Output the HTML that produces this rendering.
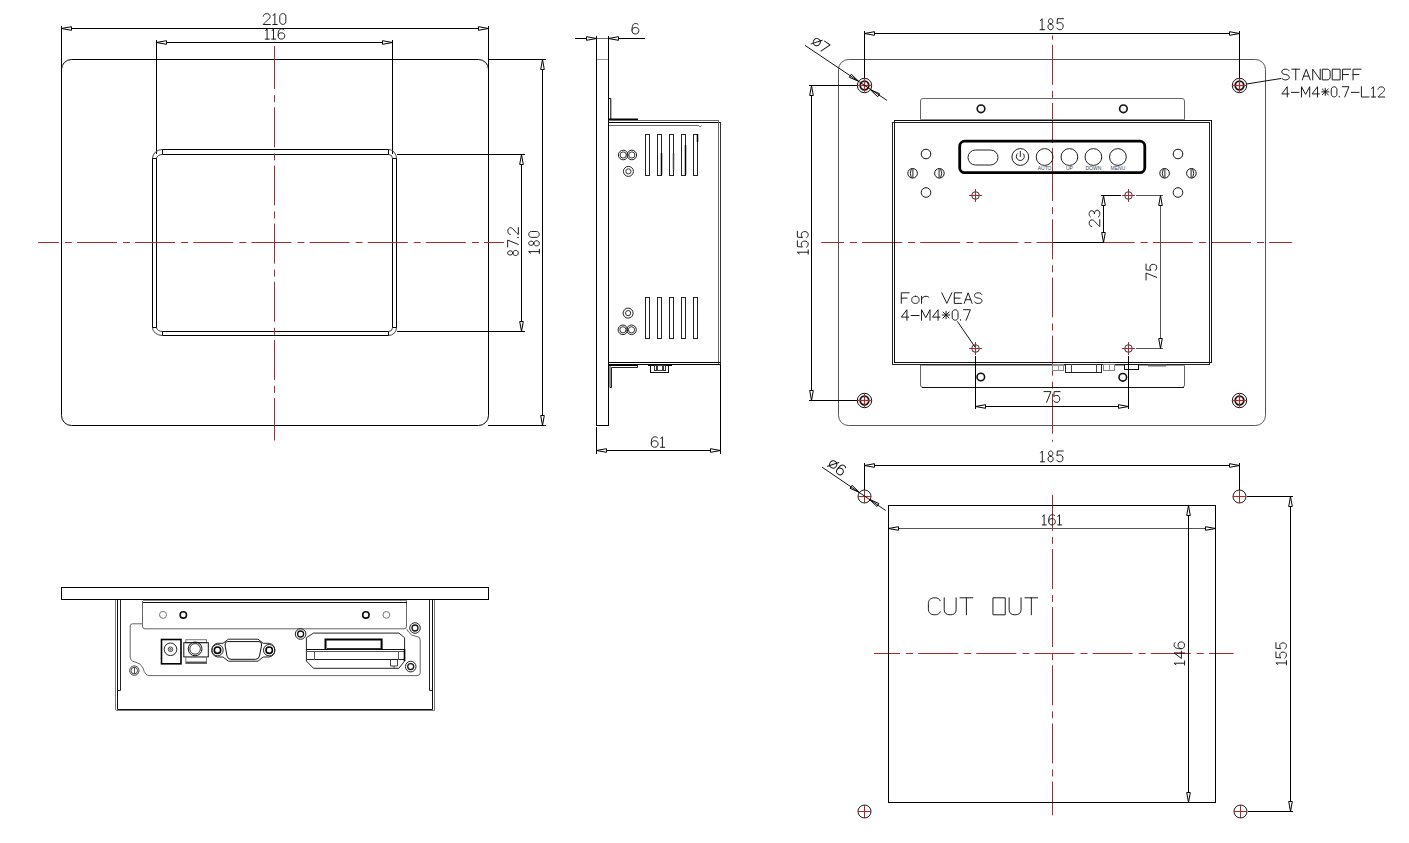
<!DOCTYPE html>
<html><head><meta charset="utf-8"><title>drawing</title>
<style>html,body{margin:0;padding:0;background:#fff;}svg{display:block;}</style></head>
<body><svg width="1409" height="843" viewBox="0 0 1409 843">
<rect x="0" y="0" width="1409" height="843" fill="#fff"/>
<rect x="61.5" y="59.5" width="427" height="366" rx="10" stroke="#000" stroke-width="1" fill="none"/>
<line x1="488" y1="59.5" x2="546" y2="59.5" stroke="#000" stroke-width="1"/>
<line x1="488" y1="425.5" x2="546" y2="425.5" stroke="#000" stroke-width="1"/>
<line x1="61.5" y1="26" x2="61.5" y2="70" stroke="#000" stroke-width="1"/>
<line x1="488.5" y1="26" x2="488.5" y2="70" stroke="#000" stroke-width="1"/>
<line x1="71" y1="28.5" x2="479" y2="28.5" stroke="#000" stroke-width="1"/>
<path d="M61.5 28.5 L71.5 26.7 L71.5 30.3 Z" stroke="#000" stroke-width="1" fill="none"/>
<path d="M488.5 28.5 L478.5 30.3 L478.5 26.7 Z" stroke="#000" stroke-width="1" fill="none"/>
<g transform="translate(274.5 19) rotate(0) translate(-11.33 -5.5) scale(1.1)" fill="none" stroke="#111" stroke-width="0.86" stroke-linecap="round" stroke-linejoin="round"><path transform="translate(0 0)" d="M0 2.5 C0.3 -0.8 6.3 -0.8 6.3 2.8 C6.3 5 2.8 6.5 0 10 L6.5 10"/><path transform="translate(8.8 0)" d="M0.3 1.8 L1.8 0 L1.8 10 M0 10 L4 10"/><path transform="translate(15.1 0)" d="M0 2.6 C0 -0.8 5.5 -0.8 5.5 2.6 L5.5 7.4 C5.5 10.8 0 10.8 0 7.4 Z"/></g>
<line x1="156.5" y1="40" x2="156.5" y2="154" stroke="#000" stroke-width="1"/>
<line x1="392.5" y1="40" x2="392.5" y2="154" stroke="#000" stroke-width="1"/>
<line x1="166" y1="42.5" x2="383" y2="42.5" stroke="#000" stroke-width="1"/>
<path d="M156.5 42.5 L166.5 40.7 L166.5 44.3 Z" stroke="#000" stroke-width="1" fill="none"/>
<path d="M392.5 42.5 L382.5 44.3 L382.5 40.7 Z" stroke="#000" stroke-width="1" fill="none"/>
<g transform="translate(275 34) rotate(0) translate(-9.74 -5.1) scale(1.02)" fill="none" stroke="#111" stroke-width="0.93" stroke-linecap="round" stroke-linejoin="round"><path transform="translate(0 0)" d="M0.3 1.8 L1.8 0 L1.8 10 M0 10 L4 10"/><path transform="translate(6.3 0)" d="M0.3 1.8 L1.8 0 L1.8 10 M0 10 L4 10"/><path transform="translate(12.6 0)" d="M5.9 1 C5.2 0.2 4.4 0 3.3 0 C0.5 0 0 3.5 0 6.5 C0 9 1.3 10 3.25 10 C5.3 10 6.5 8.7 6.5 6.8 C6.5 4.9 5.2 3.8 3.25 3.8 C1.4 3.8 0.2 5 0.05 6.5"/></g>
<rect x="162.5" y="149.5" width="226" height="5" rx="0" stroke="#000" stroke-width="1" fill="none"/>
<rect x="162.5" y="331.5" width="226" height="4" rx="0" stroke="#000" stroke-width="1" fill="none"/>
<rect x="152.5" y="158.5" width="4" height="169" rx="0" stroke="#000" stroke-width="1" fill="none"/>
<rect x="392.5" y="158.5" width="4" height="169" rx="0" stroke="#000" stroke-width="1" fill="none"/>
<path d="M388.5 149.5 A8 9 0 0 1 396.5 158.5 M388.5 154.5 A4 4 0 0 1 392.5 158.5 M162.5 149.5 A10 9 0 0 0 152.5 158.5 M162.5 154.5 A6 4 0 0 0 156.5 158.5 M388.5 335.5 A8 8 0 0 0 396.5 327.5 M388.5 331.5 A4 4 0 0 0 392.5 327.5 M162.5 335.5 A10 8 0 0 1 152.5 327.5 M162.5 331.5 A6 4 0 0 1 156.5 327.5" stroke="#444" stroke-width="1" fill="none"/>
<line x1="397" y1="154.5" x2="525" y2="154.5" stroke="#000" stroke-width="1"/>
<line x1="397" y1="331.5" x2="525" y2="331.5" stroke="#000" stroke-width="1"/>
<line x1="521.5" y1="164" x2="521.5" y2="322" stroke="#000" stroke-width="1"/>
<path d="M521.5 154.5 L523.3 164.5 L519.7 164.5 Z" stroke="#000" stroke-width="1" fill="none"/>
<path d="M521.5 331.5 L519.7 321.5 L523.3 321.5 Z" stroke="#000" stroke-width="1" fill="none"/>
<g transform="translate(513 242) rotate(-90) translate(-14.44 -5.35) scale(1.07)" fill="none" stroke="#111" stroke-width="0.89" stroke-linecap="round" stroke-linejoin="round"><path transform="translate(0 0)" d="M3.25 4.8 C0.6 4.8 0.6 0 3.25 0 C5.9 0 5.9 4.8 3.25 4.8 C0 4.8 0 10 3.25 10 C6.5 10 6.5 4.8 3.25 4.8 Z"/><path transform="translate(8.8 0)" d="M0 0 L6.5 0 L2.4 10"/><path transform="translate(17.6 0)" d="M0 9.3 L0 10"/><path transform="translate(20.5 0)" d="M0 2.5 C0.3 -0.8 6.3 -0.8 6.3 2.8 C6.3 5 2.8 6.5 0 10 L6.5 10"/></g>
<line x1="542.5" y1="69" x2="542.5" y2="416" stroke="#000" stroke-width="1"/>
<path d="M542.5 59.5 L544.3 69.5 L540.7 69.5 Z" stroke="#000" stroke-width="1" fill="none"/>
<path d="M542.5 425.5 L540.7 415.5 L544.3 415.5 Z" stroke="#000" stroke-width="1" fill="none"/>
<g transform="translate(534 242.5) rotate(-90) translate(-11.02 -5.35) scale(1.07)" fill="none" stroke="#111" stroke-width="0.89" stroke-linecap="round" stroke-linejoin="round"><path transform="translate(0 0)" d="M0.3 1.8 L1.8 0 L1.8 10 M0 10 L4 10"/><path transform="translate(6.3 0)" d="M3.25 4.8 C0.6 4.8 0.6 0 3.25 0 C5.9 0 5.9 4.8 3.25 4.8 C0 4.8 0 10 3.25 10 C6.5 10 6.5 4.8 3.25 4.8 Z"/><path transform="translate(15.1 0)" d="M0 2.6 C0 -0.8 5.5 -0.8 5.5 2.6 L5.5 7.4 C5.5 10.8 0 10.8 0 7.4 Z"/></g>
<path d="M38 242.5H58.85M64.85 242.5H71.85M77 242.5H117M123 242.5H130M135.15 242.5H175.15M181.15 242.5H188.15M193.3 242.5H233.3M239.3 242.5H246.3M251.45 242.5H291.45M297.45 242.5H304.45M309.6 242.5H349.6M355.6 242.5H362.6M367.75 242.5H407.75M413.75 242.5H420.75M425.9 242.5H465.9M471.9 242.5H478.9M484.05 242.5H504" stroke="#ab2a2c" stroke-width="1" fill="none"/>
<path d="M274.5 46V89.15M274.5 95.15V102.15M274.5 107.3V147.3M274.5 153.3V160.3M274.5 165.45V205.45M274.5 211.45V218.45M274.5 223.6V263.6M274.5 269.6V276.6M274.5 281.75V321.75M274.5 327.75V334.75M274.5 339.9V379.9M274.5 385.9V392.9M274.5 398.05V440.5" stroke="#ab2a2c" stroke-width="1" fill="none"/>
<line x1="596.5" y1="59" x2="596.5" y2="426" stroke="#000" stroke-width="1"/>
<line x1="608.5" y1="59" x2="608.5" y2="426" stroke="#000" stroke-width="1"/>
<line x1="597" y1="59.5" x2="608" y2="59.5" stroke="#999" stroke-width="1"/>
<line x1="596" y1="425.5" x2="609" y2="425.5" stroke="#000" stroke-width="1"/>
<line x1="596.5" y1="36" x2="596.5" y2="59" stroke="#000" stroke-width="1"/>
<line x1="608.5" y1="36" x2="608.5" y2="59" stroke="#000" stroke-width="1"/>
<line x1="575" y1="38.5" x2="586" y2="38.5" stroke="#000" stroke-width="1"/>
<path d="M596.5 38.5 L586.5 40.3 L586.5 36.7 Z" stroke="#000" stroke-width="1" fill="none"/>
<line x1="597" y1="38.5" x2="608" y2="38.5" stroke="#6a6a6a" stroke-width="1"/>
<line x1="619" y1="38.5" x2="645" y2="38.5" stroke="#000" stroke-width="1"/>
<path d="M608.5 38.5 L618.5 36.7 L618.5 40.3 Z" stroke="#000" stroke-width="1" fill="none"/>
<g transform="translate(632 23.5) rotate(0) translate(0 0) scale(1.05)" fill="none" stroke="#111" stroke-width="0.9" stroke-linecap="round" stroke-linejoin="round"><path transform="translate(0 0)" d="M5.9 1 C5.2 0.2 4.4 0 3.3 0 C0.5 0 0 3.5 0 6.5 C0 9 1.3 10 3.25 10 C5.3 10 6.5 8.7 6.5 6.8 C6.5 4.9 5.2 3.8 3.25 3.8 C1.4 3.8 0.2 5 0.05 6.5"/></g>
<path d="M608.5 98.5 L610.8 98.5 L610.8 119" stroke="#000" stroke-width="1" fill="none"/>
<line x1="609" y1="119.5" x2="638" y2="119.5" stroke="#000" stroke-width="2"/>
<line x1="612" y1="120.5" x2="719" y2="120.5" stroke="#6a6a6a" stroke-width="1"/>
<line x1="609" y1="122.5" x2="721" y2="122.5" stroke="#000" stroke-width="1"/>
<line x1="609" y1="125.5" x2="699" y2="125.5" stroke="#6a6a6a" stroke-width="1"/>
<path d="M698.5 125.5 L700 127 L701.5 125.5" stroke="#6a6a6a" stroke-width="1" fill="none"/>
<line x1="718.5" y1="120" x2="718.5" y2="364" stroke="#6a6a6a" stroke-width="1"/>
<line x1="720.5" y1="122" x2="720.5" y2="365" stroke="#333" stroke-width="1"/>
<line x1="609" y1="362.5" x2="721" y2="362.5" stroke="#000" stroke-width="1"/>
<line x1="609" y1="364.5" x2="721" y2="364.5" stroke="#000" stroke-width="1"/>
<line x1="609" y1="365.5" x2="638" y2="365.5" stroke="#000" stroke-width="1"/>
<path d="M610 366 L610 387.5 L611.5 387.5 L611.5 367.5 L637.5 367.5 L637.5 365" stroke="#222" stroke-width="1" fill="none"/>
<line x1="648" y1="365.5" x2="672" y2="365.5" stroke="#000" stroke-width="1"/>
<rect x="650.5" y="365.5" width="18" height="7" rx="0" stroke="#111" stroke-width="1" fill="none"/>
<rect x="654.5" y="365.5" width="2" height="5" rx="0" stroke="#333" stroke-width="1" fill="none"/>
<rect x="657.5" y="365.5" width="5" height="5" rx="0" stroke="#444" stroke-width="1" fill="none"/>
<rect x="663.5" y="365.5" width="2" height="5" rx="0" stroke="#333" stroke-width="1" fill="none"/>
<rect x="645.5" y="134.5" width="4" height="41" rx="0" stroke="#222" stroke-width="1" fill="none"/>
<rect x="645.5" y="297.5" width="4" height="41" rx="0" stroke="#222" stroke-width="1" fill="none"/>
<rect x="657.5" y="134.5" width="4" height="41" rx="0" stroke="#222" stroke-width="1" fill="none"/>
<rect x="657.5" y="297.5" width="4" height="41" rx="0" stroke="#222" stroke-width="1" fill="none"/>
<rect x="669.5" y="134.5" width="4" height="41" rx="0" stroke="#222" stroke-width="1" fill="none"/>
<rect x="669.5" y="297.5" width="4" height="41" rx="0" stroke="#222" stroke-width="1" fill="none"/>
<rect x="681.5" y="134.5" width="4" height="41" rx="0" stroke="#222" stroke-width="1" fill="none"/>
<rect x="681.5" y="297.5" width="4" height="41" rx="0" stroke="#222" stroke-width="1" fill="none"/>
<rect x="693.5" y="134.5" width="4" height="41" rx="0" stroke="#222" stroke-width="1" fill="none"/>
<rect x="693.5" y="297.5" width="4" height="41" rx="0" stroke="#222" stroke-width="1" fill="none"/>
<line x1="661.5" y1="153" x2="661.5" y2="175" stroke="#000" stroke-width="1.5"/>
<line x1="673.5" y1="153" x2="673.5" y2="170" stroke="#444" stroke-width="1.5"/>
<line x1="685.5" y1="145" x2="685.5" y2="175" stroke="#000" stroke-width="1.5"/>
<line x1="697.5" y1="134" x2="697.5" y2="142" stroke="#000" stroke-width="1.5"/>
<circle cx="623.2" cy="155" r="4.8" stroke="#222" stroke-width="1" fill="none"/>
<circle cx="623.2" cy="155" r="3.1" stroke="#333" stroke-width="1" fill="none"/>
<circle cx="631.8" cy="155" r="4.8" stroke="#222" stroke-width="1" fill="none"/>
<circle cx="631.8" cy="155" r="3.1" stroke="#333" stroke-width="1" fill="none"/>
<circle cx="628.4" cy="171.4" r="5" stroke="#222" stroke-width="1" fill="none"/>
<circle cx="628.4" cy="171.4" r="2.6" stroke="#333" stroke-width="1" fill="none"/>
<circle cx="628.1" cy="313.1" r="5" stroke="#222" stroke-width="1" fill="none"/>
<circle cx="628.1" cy="313.1" r="2.6" stroke="#333" stroke-width="1" fill="none"/>
<circle cx="622.9" cy="329.8" r="4.8" stroke="#222" stroke-width="1" fill="none"/>
<circle cx="622.9" cy="329.8" r="3.1" stroke="#333" stroke-width="1" fill="none"/>
<circle cx="631.5" cy="329.8" r="4.8" stroke="#222" stroke-width="1" fill="none"/>
<circle cx="631.5" cy="329.8" r="3.1" stroke="#333" stroke-width="1" fill="none"/>
<line x1="596.5" y1="427" x2="596.5" y2="454" stroke="#000" stroke-width="1"/>
<line x1="720.5" y1="365" x2="720.5" y2="454" stroke="#000" stroke-width="1"/>
<line x1="606" y1="450.5" x2="711" y2="450.5" stroke="#000" stroke-width="1"/>
<path d="M596.5 450.5 L606.5 448.7 L606.5 452.3 Z" stroke="#000" stroke-width="1" fill="none"/>
<path d="M720.5 450.5 L710.5 452.3 L710.5 448.7 Z" stroke="#000" stroke-width="1" fill="none"/>
<g transform="translate(658 442) rotate(0) translate(-6.72 -5.25) scale(1.05)" fill="none" stroke="#111" stroke-width="0.9" stroke-linecap="round" stroke-linejoin="round"><path transform="translate(0 0)" d="M5.9 1 C5.2 0.2 4.4 0 3.3 0 C0.5 0 0 3.5 0 6.5 C0 9 1.3 10 3.25 10 C5.3 10 6.5 8.7 6.5 6.8 C6.5 4.9 5.2 3.8 3.25 3.8 C1.4 3.8 0.2 5 0.05 6.5"/><path transform="translate(8.8 0)" d="M0.3 1.8 L1.8 0 L1.8 10 M0 10 L4 10"/></g>
<path d="M821.2 242.5H843.95M849.95 242.5H856.95M862.1 242.5H902.1M908.1 242.5H915.1M920.25 242.5H960.25M966.25 242.5H973.25M978.4 242.5H1018.4M1024.4 242.5H1031.4M1036.55 242.5H1076.55M1082.55 242.5H1089.55M1094.7 242.5H1134.7M1140.7 242.5H1147.7M1152.85 242.5H1192.85M1198.85 242.5H1205.85M1211 242.5H1251M1257 242.5H1264M1269.15 242.5H1292.2" stroke="#ab2a2c" stroke-width="1" fill="none"/>
<path d="M1052.5 35.4V39.7M1052.5 44.85V84.85M1052.5 90.85V97.85M1052.5 103V143M1052.5 149V156M1052.5 161.15V201.15M1052.5 207.15V214.15M1052.5 219.3V259.3M1052.5 265.3V272.3M1052.5 277.45V317.45M1052.5 323.45V330.45M1052.5 335.6V375.6M1052.5 381.6V388.6M1052.5 393.75V433.75M1052.5 439.75V441.8M1052.5 147.8V162" stroke="#ab2a2c" stroke-width="1" fill="none"/>
<rect x="838.5" y="59.5" width="427" height="366" rx="10" stroke="#555" stroke-width="1" fill="none"/>
<path d="M920.5 120 L920.5 101 Q920.5 98.5 923 98.5 L1182 98.5 Q1184.5 98.5 1184.5 101 L1184.5 120" stroke="#666" stroke-width="1" fill="none"/>
<line x1="920" y1="119.5" x2="1185" y2="119.5" stroke="#888" stroke-width="1"/>
<circle cx="981" cy="108.8" r="3.8" stroke="#111" stroke-width="1.6" fill="none"/>
<circle cx="1123.4" cy="108.8" r="3.8" stroke="#111" stroke-width="1.6" fill="none"/>
<path d="M920.5 365 L920.5 385 Q920.5 387.5 923 387.5 L1182 387.5 Q1184.5 387.5 1184.5 385 L1184.5 365" stroke="#666" stroke-width="1" fill="none"/>
<line x1="922" y1="387.5" x2="1184" y2="387.5" stroke="#111" stroke-width="1"/>
<circle cx="980.8" cy="377" r="3.8" stroke="#111" stroke-width="1.6" fill="none"/>
<circle cx="1122.8" cy="377.3" r="3.8" stroke="#111" stroke-width="1.6" fill="none"/>
<rect x="894.5" y="120.5" width="317" height="242" rx="0" stroke="#111" stroke-width="1" fill="none"/>
<rect x="892.5" y="122.5" width="317" height="242" rx="0" stroke="#222" stroke-width="1" fill="none"/>
<line x1="921" y1="365.5" x2="1065" y2="365.5" stroke="#999" stroke-width="1"/>
<line x1="1114" y1="365.5" x2="1125" y2="365.5" stroke="#999" stroke-width="1"/>
<line x1="1138" y1="365.5" x2="1185" y2="365.5" stroke="#999" stroke-width="1"/>
<line x1="1148" y1="365.5" x2="1166" y2="365.5" stroke="#666" stroke-width="2"/>
<rect x="1052.5" y="364.5" width="11" height="6" rx="0" stroke="#888" stroke-width="1" fill="none"/>
<line x1="1058.5" y1="364" x2="1058.5" y2="370" stroke="#999" stroke-width="1"/>
<rect x="1065.5" y="364.5" width="36" height="8" rx="0" stroke="#222" stroke-width="1" fill="none"/>
<line x1="1071.5" y1="364" x2="1071.5" y2="372" stroke="#444" stroke-width="1"/>
<line x1="1096.5" y1="364" x2="1096.5" y2="372" stroke="#444" stroke-width="1"/>
<rect x="1103.5" y="364.5" width="11" height="6" rx="0" stroke="#888" stroke-width="1" fill="none"/>
<line x1="1109.5" y1="364" x2="1109.5" y2="370" stroke="#999" stroke-width="1"/>
<rect x="1124.5" y="364.5" width="14" height="5" rx="0" stroke="#111" stroke-width="1" fill="none"/>
<rect x="959.7" y="141.2" width="185.1" height="31.5" rx="5" stroke="#000" stroke-width="2.8" fill="none"/>
<rect x="968" y="150" width="30" height="15" rx="7.5" stroke="#222" stroke-width="1" fill="none"/>
<circle cx="1020.3" cy="157" r="8.4" stroke="#222" stroke-width="1" fill="none"/>
<circle cx="1044.6" cy="157" r="8.4" stroke="#222" stroke-width="1" fill="none"/>
<circle cx="1069.4" cy="157" r="8.4" stroke="#222" stroke-width="1" fill="none"/>
<circle cx="1093.4" cy="157" r="8.4" stroke="#222" stroke-width="1" fill="none"/>
<circle cx="1117.9" cy="157" r="8.4" stroke="#222" stroke-width="1" fill="none"/>
<path d="M1017.6 153.5 A4 4 0 1 0 1023 153.5 M1020.3 151 L1020.3 157" stroke="#222" stroke-width="1" fill="none"/>
<text x="1044.6" y="170" font-family="Liberation Sans, sans-serif" font-size="5" text-anchor="middle" fill="#345">AUTO</text>
<text x="1069.4" y="170" font-family="Liberation Sans, sans-serif" font-size="5" text-anchor="middle" fill="#345">UP</text>
<text x="1093.4" y="170" font-family="Liberation Sans, sans-serif" font-size="5" text-anchor="middle" fill="#345">DOWN</text>
<text x="1117.9" y="170" font-family="Liberation Sans, sans-serif" font-size="5" text-anchor="middle" fill="#345">MENU</text>
<circle cx="926" cy="154" r="4.8" stroke="#111" stroke-width="1" fill="none"/>
<circle cx="926" cy="192.5" r="4.8" stroke="#111" stroke-width="1" fill="none"/>
<circle cx="1178" cy="154" r="4.8" stroke="#111" stroke-width="1" fill="none"/>
<circle cx="1178" cy="192.5" r="4.8" stroke="#111" stroke-width="1" fill="none"/>
<circle cx="912.6" cy="173.3" r="4.8" stroke="#111" stroke-width="1" fill="none"/>
<path d="M911.4 168.8 Q909.1 173.3 911.4 177.8 M912.9 168.70000000000002 L912.9 177.9" stroke="#222" stroke-width="1" fill="none"/>
<circle cx="939.4" cy="173.3" r="4.8" stroke="#111" stroke-width="1" fill="none"/>
<path d="M940.6 168.8 Q942.9 173.3 940.6 177.8 M939.1 168.70000000000002 L939.1 177.9" stroke="#222" stroke-width="1" fill="none"/>
<circle cx="1164.6" cy="173.3" r="4.8" stroke="#111" stroke-width="1" fill="none"/>
<path d="M1163.3999999999999 168.8 Q1161.1 173.3 1163.3999999999999 177.8 M1164.8999999999999 168.70000000000002 L1164.8999999999999 177.9" stroke="#222" stroke-width="1" fill="none"/>
<circle cx="1191.4" cy="173.3" r="4.8" stroke="#111" stroke-width="1" fill="none"/>
<path d="M1192.6000000000001 168.8 Q1194.9 173.3 1192.6000000000001 177.8 M1191.1000000000001 168.70000000000002 L1191.1000000000001 177.9" stroke="#222" stroke-width="1" fill="none"/>
<circle cx="975.5" cy="195.5" r="3.8" stroke="#333" stroke-width="1" fill="none"/>
<line x1="969" y1="195.5" x2="982" y2="195.5" stroke="#ab2a2c" stroke-width="1"/>
<line x1="975.5" y1="189" x2="975.5" y2="202" stroke="#ab2a2c" stroke-width="1"/>
<circle cx="1128.5" cy="195.5" r="3.8" stroke="#333" stroke-width="1" fill="none"/>
<line x1="1122" y1="195.5" x2="1135" y2="195.5" stroke="#ab2a2c" stroke-width="1"/>
<line x1="1128.5" y1="189" x2="1128.5" y2="202" stroke="#ab2a2c" stroke-width="1"/>
<circle cx="975.5" cy="348.5" r="3.8" stroke="#333" stroke-width="1" fill="none"/>
<line x1="969" y1="348.5" x2="982" y2="348.5" stroke="#ab2a2c" stroke-width="1"/>
<line x1="975.5" y1="342" x2="975.5" y2="355" stroke="#ab2a2c" stroke-width="1"/>
<circle cx="1128.5" cy="348.5" r="3.8" stroke="#333" stroke-width="1" fill="none"/>
<line x1="1122" y1="348.5" x2="1135" y2="348.5" stroke="#ab2a2c" stroke-width="1"/>
<line x1="1128.5" y1="342" x2="1128.5" y2="355" stroke="#ab2a2c" stroke-width="1"/>
<circle cx="864.5" cy="85.5" r="7.2" stroke="#111" stroke-width="1" fill="none"/>
<circle cx="864.5" cy="85.5" r="4.3" stroke="#111" stroke-width="1.8" fill="none"/>
<line x1="857.5" y1="85.5" x2="871.5" y2="85.5" stroke="#ab2a2c" stroke-width="1.2"/>
<line x1="864.5" y1="78.5" x2="864.5" y2="92.5" stroke="#ab2a2c" stroke-width="1.2"/>
<circle cx="1239.5" cy="85.5" r="7.2" stroke="#111" stroke-width="1" fill="none"/>
<circle cx="1239.5" cy="85.5" r="4.3" stroke="#111" stroke-width="1.8" fill="none"/>
<line x1="1232.5" y1="85.5" x2="1246.5" y2="85.5" stroke="#ab2a2c" stroke-width="1.2"/>
<line x1="1239.5" y1="78.5" x2="1239.5" y2="92.5" stroke="#ab2a2c" stroke-width="1.2"/>
<circle cx="864.5" cy="400.5" r="7.2" stroke="#111" stroke-width="1" fill="none"/>
<circle cx="864.5" cy="400.5" r="4.3" stroke="#111" stroke-width="1.8" fill="none"/>
<line x1="857.5" y1="400.5" x2="871.5" y2="400.5" stroke="#ab2a2c" stroke-width="1.2"/>
<line x1="864.5" y1="393.5" x2="864.5" y2="407.5" stroke="#ab2a2c" stroke-width="1.2"/>
<circle cx="1239.5" cy="400.5" r="7.2" stroke="#111" stroke-width="1" fill="none"/>
<circle cx="1239.5" cy="400.5" r="4.3" stroke="#111" stroke-width="1.8" fill="none"/>
<line x1="1232.5" y1="400.5" x2="1246.5" y2="400.5" stroke="#ab2a2c" stroke-width="1.2"/>
<line x1="1239.5" y1="393.5" x2="1239.5" y2="407.5" stroke="#ab2a2c" stroke-width="1.2"/>
<line x1="864.5" y1="31" x2="864.5" y2="78" stroke="#000" stroke-width="1"/>
<line x1="1239.5" y1="31" x2="1239.5" y2="78" stroke="#000" stroke-width="1"/>
<line x1="874" y1="33.5" x2="1230" y2="33.5" stroke="#000" stroke-width="1"/>
<path d="M864.5 33.5 L874.5 31.7 L874.5 35.3 Z" stroke="#000" stroke-width="1" fill="none"/>
<path d="M1239.5 33.5 L1229.5 35.3 L1229.5 31.7 Z" stroke="#000" stroke-width="1" fill="none"/>
<g transform="translate(1052 24.2) rotate(0) translate(-11.88 -5.5) scale(1.1)" fill="none" stroke="#111" stroke-width="0.86" stroke-linecap="round" stroke-linejoin="round"><path transform="translate(0 0)" d="M0.3 1.8 L1.8 0 L1.8 10 M0 10 L4 10"/><path transform="translate(6.3 0)" d="M3.25 4.8 C0.6 4.8 0.6 0 3.25 0 C5.9 0 5.9 4.8 3.25 4.8 C0 4.8 0 10 3.25 10 C6.5 10 6.5 4.8 3.25 4.8 Z"/><path transform="translate(15.1 0)" d="M6.1 0 L0.7 0 L0.3 4.6 C1.2 3.8 2.1 3.6 3.25 3.6 C6.7 3.6 6.7 10 3.25 10 C1.7 10 0.7 9.4 0.1 8.5"/></g>
<line x1="809" y1="85.5" x2="857" y2="85.5" stroke="#000" stroke-width="1"/>
<line x1="809" y1="400.5" x2="857" y2="400.5" stroke="#000" stroke-width="1"/>
<line x1="811.5" y1="95" x2="811.5" y2="391" stroke="#000" stroke-width="1"/>
<path d="M811.5 85.5 L813.3 95.5 L809.7 95.5 Z" stroke="#000" stroke-width="1" fill="none"/>
<path d="M811.5 400.5 L809.7 390.5 L813.3 390.5 Z" stroke="#000" stroke-width="1" fill="none"/>
<g transform="translate(802.8 242.5) rotate(-90) translate(-11.66 -5.4) scale(1.08)" fill="none" stroke="#111" stroke-width="0.88" stroke-linecap="round" stroke-linejoin="round"><path transform="translate(0 0)" d="M0.3 1.8 L1.8 0 L1.8 10 M0 10 L4 10"/><path transform="translate(6.3 0)" d="M6.1 0 L0.7 0 L0.3 4.6 C1.2 3.8 2.1 3.6 3.25 3.6 C6.7 3.6 6.7 10 3.25 10 C1.7 10 0.7 9.4 0.1 8.5"/><path transform="translate(15.1 0)" d="M6.1 0 L0.7 0 L0.3 4.6 C1.2 3.8 2.1 3.6 3.25 3.6 C6.7 3.6 6.7 10 3.25 10 C1.7 10 0.7 9.4 0.1 8.5"/></g>
<line x1="805" y1="45.4" x2="887" y2="100.4" stroke="#111" stroke-width="1"/>
<path d="M858.6 81.3 L849.29 77.22 L851.3 74.23 Z" stroke="#000" stroke-width="1" fill="none"/>
<path d="M870.4 89.7 L879.71 93.78 L877.7 96.77 Z" stroke="#000" stroke-width="1" fill="none"/>
<g transform="translate(820.5 44.6) rotate(33.8) translate(-8.14 -5.15) scale(1.03)" fill="none" stroke="#111" stroke-width="0.92" stroke-linecap="round" stroke-linejoin="round"><path transform="translate(0 0)" d="M3.5 1.5 C8 1.5 8 8.5 3.5 8.5 C-1 8.5 -1 1.5 3.5 1.5 Z M0 9.5 L7 0.5"/><path transform="translate(9.3 0)" d="M0 0 L6.5 0 L2.4 10"/></g>
<line x1="1246.5" y1="84" x2="1281" y2="78.5" stroke="#111" stroke-width="1"/>
<g transform="translate(1281.8 69.2) rotate(0) translate(0 0) scale(1.07)" fill="none" stroke="#111" stroke-width="0.89" stroke-linecap="round" stroke-linejoin="round"><path transform="translate(0 0)" d="M6.8 1.5 C6 0.3 5 0 3.5 0 C1 0 0 1.2 0 2.6 C0 4.2 1.5 4.7 3.5 5 C5.5 5.3 7 5.9 7 7.5 C7 9 5.8 10 3.5 10 C1.6 10 0.6 9.4 0 8.5"/><path transform="translate(9.3 0)" d="M0 0 L7.5 0 M3.75 0 L3.75 10"/><path transform="translate(19.1 0)" d="M0 10 L3.75 0 L7.5 10 M1.3 6.5 L6.2 6.5"/><path transform="translate(28.9 0)" d="M0 10 L0 0 L7 10 L7 0"/><path transform="translate(38.2 0)" d="M0 0 L4 0 C6 0 7 1 7 3 L7 7 C7 9 6 10 4 10 L0 10 Z"/><path transform="translate(47.5 0)" d="M0 0 L7 0 L7 10 L0 10 Z"/><path transform="translate(56.8 0)" d="M7.5 0 L0 0 L0 10 M0 5 L5.5 5"/><path transform="translate(66.6 0)" d="M7.5 0 L0 0 L0 10 M0 5 L5.5 5"/></g>
<g transform="translate(1281.8 86.7) rotate(0) translate(0 0) scale(1.03)" fill="none" stroke="#111" stroke-width="0.92" stroke-linecap="round" stroke-linejoin="round"><path transform="translate(0 0)" d="M5.3 10 L5.3 0 L0 7 L7 7"/><path transform="translate(9.3 0)" d="M0 5.5 L7.5 5.5"/><path transform="translate(19.1 0)" d="M0 10 L0 0 L4 7.5 L8 0 L8 10"/><path transform="translate(29.4 0)" d="M5.3 10 L5.3 0 L0 7 L7 7"/><path transform="translate(38.7 0)" d="M0.6 2.2 L6.4 7.8 M6.4 2.2 L0.6 7.8 M3.5 1.5 L3.5 8.5 M0 5 L7 5"/><path transform="translate(48 0)" d="M0 2.6 C0 -0.8 5.5 -0.8 5.5 2.6 L5.5 7.4 C5.5 10.8 0 10.8 0 7.4 Z"/><path transform="translate(55.8 0)" d="M0 9.3 L0 10"/><path transform="translate(58.7 0)" d="M0 0 L6.5 0 L2.4 10"/><path transform="translate(67.5 0)" d="M0 5.5 L7.5 5.5"/><path transform="translate(77.3 0)" d="M0 0 L0 10 L7.5 10"/><path transform="translate(87.1 0)" d="M0.3 1.8 L1.8 0 L1.8 10 M0 10 L4 10"/><path transform="translate(93.4 0)" d="M0 2.5 C0.3 -0.8 6.3 -0.8 6.3 2.8 C6.3 5 2.8 6.5 0 10 L6.5 10"/></g>
<line x1="1053" y1="242.5" x2="1104" y2="242.5" stroke="#000" stroke-width="1"/>
<line x1="1101" y1="195.5" x2="1121" y2="195.5" stroke="#000" stroke-width="1"/>
<line x1="1136" y1="195.5" x2="1163" y2="195.5" stroke="#555" stroke-width="1"/>
<line x1="1103.5" y1="205" x2="1103.5" y2="233" stroke="#000" stroke-width="1"/>
<path d="M1103.5 195.5 L1105.3 205.5 L1101.7 205.5 Z" stroke="#000" stroke-width="1" fill="none"/>
<path d="M1103.5 242.5 L1101.7 232.5 L1105.3 232.5 Z" stroke="#000" stroke-width="1" fill="none"/>
<g transform="translate(1094.4 218.4) rotate(-90) translate(-8.19 -5.35) scale(1.07)" fill="none" stroke="#111" stroke-width="0.89" stroke-linecap="round" stroke-linejoin="round"><path transform="translate(0 0)" d="M0 2.5 C0.3 -0.8 6.3 -0.8 6.3 2.8 C6.3 5 2.8 6.5 0 10 L6.5 10"/><path transform="translate(8.8 0)" d="M0.3 1.2 C1.4 -0.5 6 -0.6 6 2.6 C6 4.3 4.6 5 3 5 C5.1 5 6.5 6 6.5 7.5 C6.5 10.8 1.1 10.8 0 8.6"/></g>
<line x1="1136" y1="348.5" x2="1163" y2="348.5" stroke="#555" stroke-width="1"/>
<line x1="1160.5" y1="205" x2="1160.5" y2="339" stroke="#555" stroke-width="1"/>
<path d="M1160.5 195.5 L1162.3 205.5 L1158.7 205.5 Z" stroke="#000" stroke-width="1" fill="none"/>
<path d="M1160.5 348.5 L1158.7 338.5 L1162.3 338.5 Z" stroke="#000" stroke-width="1" fill="none"/>
<g transform="translate(1151.4 271.8) rotate(-90) translate(-8.19 -5.35) scale(1.07)" fill="none" stroke="#111" stroke-width="0.89" stroke-linecap="round" stroke-linejoin="round"><path transform="translate(0 0)" d="M0 0 L6.5 0 L2.4 10"/><path transform="translate(8.8 0)" d="M6.1 0 L0.7 0 L0.3 4.6 C1.2 3.8 2.1 3.6 3.25 3.6 C6.7 3.6 6.7 10 3.25 10 C1.7 10 0.7 9.4 0.1 8.5"/></g>
<line x1="975.5" y1="356" x2="975.5" y2="409" stroke="#000" stroke-width="1"/>
<line x1="1128.5" y1="356" x2="1128.5" y2="409" stroke="#000" stroke-width="1"/>
<line x1="985" y1="406.5" x2="1119" y2="406.5" stroke="#000" stroke-width="1"/>
<path d="M975.5 406.5 L985.5 404.7 L985.5 408.3 Z" stroke="#000" stroke-width="1" fill="none"/>
<path d="M1128.5 406.5 L1118.5 408.3 L1118.5 404.7 Z" stroke="#000" stroke-width="1" fill="none"/>
<g transform="translate(1052.2 397) rotate(0) translate(-8.26 -5.4) scale(1.08)" fill="none" stroke="#111" stroke-width="0.88" stroke-linecap="round" stroke-linejoin="round"><path transform="translate(0 0)" d="M0 0 L6.5 0 L2.4 10"/><path transform="translate(8.8 0)" d="M6.1 0 L0.7 0 L0.3 4.6 C1.2 3.8 2.1 3.6 3.25 3.6 C6.7 3.6 6.7 10 3.25 10 C1.7 10 0.7 9.4 0.1 8.5"/></g>
<line x1="975" y1="347" x2="957.4" y2="321.4" stroke="#111" stroke-width="1"/>
<g transform="translate(901.3 292.8) rotate(0) translate(0 0) scale(1.06)" fill="none" stroke="#111" stroke-width="0.9" stroke-linecap="round" stroke-linejoin="round"><path transform="translate(0 0)" d="M7.5 0 L0 0 L0 10 M0 5 L5.5 5"/><path transform="translate(9.8 0)" d="M3.5 3.3 C0.3 3.3 0 5.5 0 6.65 C0 7.8 0.3 10 3.5 10 C6.7 10 7 7.8 7 6.65 C7 5.5 6.7 3.3 3.5 3.3 Z"/><path transform="translate(19.1 0)" d="M0 3.3 L0 10 M0 6.5 C0.6 4.2 2 3.3 4.2 3.3 C5.5 3.3 6.4 3.6 7 4.3"/><path transform="translate(38.2 0)" d="M0 0 L4.75 10 L9.5 0"/><path transform="translate(50 0)" d="M7 0 L0 0 L0 10 L7 10 M0 5 L5.5 5"/><path transform="translate(59.3 0)" d="M0 10 L3.75 0 L7.5 10 M1.3 6.5 L6.2 6.5"/><path transform="translate(69.1 0)" d="M6.8 1.5 C6 0.3 5 0 3.5 0 C1 0 0 1.2 0 2.6 C0 4.2 1.5 4.7 3.5 5 C5.5 5.3 7 5.9 7 7.5 C7 9 5.8 10 3.5 10 C1.6 10 0.6 9.4 0 8.5"/></g>
<g transform="translate(901.3 309.7) rotate(0) translate(0 0) scale(1.06)" fill="none" stroke="#111" stroke-width="0.9" stroke-linecap="round" stroke-linejoin="round"><path transform="translate(0 0)" d="M5.3 10 L5.3 0 L0 7 L7 7"/><path transform="translate(9.3 0)" d="M0 5.5 L7.5 5.5"/><path transform="translate(19.1 0)" d="M0 10 L0 0 L4 7.5 L8 0 L8 10"/><path transform="translate(29.4 0)" d="M5.3 10 L5.3 0 L0 7 L7 7"/><path transform="translate(38.7 0)" d="M0.6 2.2 L6.4 7.8 M6.4 2.2 L0.6 7.8 M3.5 1.5 L3.5 8.5 M0 5 L7 5"/><path transform="translate(48 0)" d="M0 2.6 C0 -0.8 5.5 -0.8 5.5 2.6 L5.5 7.4 C5.5 10.8 0 10.8 0 7.4 Z"/><path transform="translate(55.8 0)" d="M0 9.3 L0 10"/><path transform="translate(58.7 0)" d="M0 0 L6.5 0 L2.4 10"/></g>
<path d="M874 653.5H900.05M906.05 653.5H913.05M918.2 653.5H958.2M964.2 653.5H971.2M976.35 653.5H1016.35M1022.35 653.5H1029.35M1034.5 653.5H1074.5M1080.5 653.5H1087.5M1092.65 653.5H1132.65M1138.65 653.5H1145.65M1150.8 653.5H1190.8M1196.8 653.5H1203.8M1208.95 653.5H1233.7" stroke="#ab2a2c" stroke-width="1" fill="none"/>
<path d="M1052.5 494.9V530.85M1052.5 536.85V543.85M1052.5 549V589M1052.5 595V602M1052.5 607.15V647.15M1052.5 653.15V660.15M1052.5 665.3V705.3M1052.5 711.3V718.3M1052.5 723.45V763.45M1052.5 769.45V776.45M1052.5 781.6V815.3" stroke="#ab2a2c" stroke-width="1" fill="none"/>
<circle cx="864.5" cy="496.5" r="6.5" stroke="#222" stroke-width="1" fill="none"/>
<line x1="857.9" y1="496.5" x2="871.1" y2="496.5" stroke="#ab2a2c" stroke-width="1"/>
<line x1="864.5" y1="489.9" x2="864.5" y2="503.1" stroke="#ab2a2c" stroke-width="1"/>
<circle cx="1239.5" cy="496.5" r="6.5" stroke="#222" stroke-width="1" fill="none"/>
<line x1="1232.9" y1="496.5" x2="1246.1" y2="496.5" stroke="#ab2a2c" stroke-width="1"/>
<line x1="1239.5" y1="489.9" x2="1239.5" y2="503.1" stroke="#ab2a2c" stroke-width="1"/>
<circle cx="864.5" cy="811.5" r="6.5" stroke="#222" stroke-width="1" fill="none"/>
<line x1="857.9" y1="811.5" x2="871.1" y2="811.5" stroke="#ab2a2c" stroke-width="1"/>
<line x1="864.5" y1="804.9" x2="864.5" y2="818.1" stroke="#ab2a2c" stroke-width="1"/>
<circle cx="1240.5" cy="811.5" r="6.5" stroke="#222" stroke-width="1" fill="none"/>
<line x1="1233.9" y1="811.5" x2="1247.1" y2="811.5" stroke="#ab2a2c" stroke-width="1"/>
<line x1="1240.5" y1="804.9" x2="1240.5" y2="818.1" stroke="#ab2a2c" stroke-width="1"/>
<rect x="888.5" y="505.5" width="327" height="297" rx="0" stroke="#000" stroke-width="1" fill="none"/>
<line x1="864.5" y1="463" x2="864.5" y2="490" stroke="#000" stroke-width="1"/>
<line x1="1239.5" y1="463" x2="1239.5" y2="490" stroke="#000" stroke-width="1"/>
<line x1="874" y1="465.5" x2="1230" y2="465.5" stroke="#000" stroke-width="1"/>
<path d="M864.5 465.5 L874.5 463.7 L874.5 467.3 Z" stroke="#000" stroke-width="1" fill="none"/>
<path d="M1239.5 465.5 L1229.5 467.3 L1229.5 463.7 Z" stroke="#000" stroke-width="1" fill="none"/>
<g transform="translate(1052 456.4) rotate(0) translate(-11.66 -5.4) scale(1.08)" fill="none" stroke="#111" stroke-width="0.88" stroke-linecap="round" stroke-linejoin="round"><path transform="translate(0 0)" d="M0.3 1.8 L1.8 0 L1.8 10 M0 10 L4 10"/><path transform="translate(6.3 0)" d="M3.25 4.8 C0.6 4.8 0.6 0 3.25 0 C5.9 0 5.9 4.8 3.25 4.8 C0 4.8 0 10 3.25 10 C6.5 10 6.5 4.8 3.25 4.8 Z"/><path transform="translate(15.1 0)" d="M6.1 0 L0.7 0 L0.3 4.6 C1.2 3.8 2.1 3.6 3.25 3.6 C6.7 3.6 6.7 10 3.25 10 C1.7 10 0.7 9.4 0.1 8.5"/></g>
<line x1="898" y1="528.5" x2="1206" y2="528.5" stroke="#555" stroke-width="1"/>
<path d="M888.5 528.5 L898.5 526.7 L898.5 530.3 Z" stroke="#000" stroke-width="1" fill="none"/>
<path d="M1215.5 528.5 L1205.5 530.3 L1205.5 526.7 Z" stroke="#000" stroke-width="1" fill="none"/>
<g transform="translate(1052 519.8) rotate(0) translate(-9.74 -5.1) scale(1.02)" fill="none" stroke="#111" stroke-width="0.93" stroke-linecap="round" stroke-linejoin="round"><path transform="translate(0 0)" d="M0.3 1.8 L1.8 0 L1.8 10 M0 10 L4 10"/><path transform="translate(6.3 0)" d="M5.9 1 C5.2 0.2 4.4 0 3.3 0 C0.5 0 0 3.5 0 6.5 C0 9 1.3 10 3.25 10 C5.3 10 6.5 8.7 6.5 6.8 C6.5 4.9 5.2 3.8 3.25 3.8 C1.4 3.8 0.2 5 0.05 6.5"/><path transform="translate(15.1 0)" d="M0.3 1.8 L1.8 0 L1.8 10 M0 10 L4 10"/></g>
<line x1="1188.5" y1="515" x2="1188.5" y2="793" stroke="#000" stroke-width="1"/>
<path d="M1188.5 505.5 L1190.3 515.5 L1186.7 515.5 Z" stroke="#000" stroke-width="1" fill="none"/>
<path d="M1188.5 802.5 L1186.7 792.5 L1190.3 792.5 Z" stroke="#000" stroke-width="1" fill="none"/>
<g transform="translate(1179.3 653.5) rotate(-90) translate(-11.6 -5.25) scale(1.05)" fill="none" stroke="#111" stroke-width="0.9" stroke-linecap="round" stroke-linejoin="round"><path transform="translate(0 0)" d="M0.3 1.8 L1.8 0 L1.8 10 M0 10 L4 10"/><path transform="translate(6.3 0)" d="M5.3 10 L5.3 0 L0 7 L7 7"/><path transform="translate(15.6 0)" d="M5.9 1 C5.2 0.2 4.4 0 3.3 0 C0.5 0 0 3.5 0 6.5 C0 9 1.3 10 3.25 10 C5.3 10 6.5 8.7 6.5 6.8 C6.5 4.9 5.2 3.8 3.25 3.8 C1.4 3.8 0.2 5 0.05 6.5"/></g>
<line x1="1247" y1="496.5" x2="1293" y2="496.5" stroke="#000" stroke-width="1"/>
<line x1="1248" y1="811.5" x2="1293" y2="811.5" stroke="#000" stroke-width="1"/>
<line x1="1290.5" y1="506" x2="1290.5" y2="802" stroke="#000" stroke-width="1"/>
<path d="M1290.5 496.5 L1292.3 506.5 L1288.7 506.5 Z" stroke="#000" stroke-width="1" fill="none"/>
<path d="M1290.5 811.5 L1288.7 801.5 L1292.3 801.5 Z" stroke="#000" stroke-width="1" fill="none"/>
<g transform="translate(1281.2 653.5) rotate(-90) translate(-11.34 -5.25) scale(1.05)" fill="none" stroke="#111" stroke-width="0.9" stroke-linecap="round" stroke-linejoin="round"><path transform="translate(0 0)" d="M0.3 1.8 L1.8 0 L1.8 10 M0 10 L4 10"/><path transform="translate(6.3 0)" d="M6.1 0 L0.7 0 L0.3 4.6 C1.2 3.8 2.1 3.6 3.25 3.6 C6.7 3.6 6.7 10 3.25 10 C1.7 10 0.7 9.4 0.1 8.5"/><path transform="translate(15.1 0)" d="M6.1 0 L0.7 0 L0.3 4.6 C1.2 3.8 2.1 3.6 3.25 3.6 C6.7 3.6 6.7 10 3.25 10 C1.7 10 0.7 9.4 0.1 8.5"/></g>
<line x1="822" y1="467.1" x2="885.7" y2="510.5" stroke="#111" stroke-width="1"/>
<path d="M859.3 492.4 L850.02 488.26 L852.05 485.28 Z" stroke="#000" stroke-width="1" fill="none"/>
<path d="M869.6 499.4 L878.88 503.54 L876.85 506.52 Z" stroke="#000" stroke-width="1" fill="none"/>
<g transform="translate(837 467) rotate(34.3) translate(-8.29 -5.25) scale(1.05)" fill="none" stroke="#111" stroke-width="0.9" stroke-linecap="round" stroke-linejoin="round"><path transform="translate(0 0)" d="M3.5 1.5 C8 1.5 8 8.5 3.5 8.5 C-1 8.5 -1 1.5 3.5 1.5 Z M0 9.5 L7 0.5"/><path transform="translate(9.3 0)" d="M5.9 1 C5.2 0.2 4.4 0 3.3 0 C0.5 0 0 3.5 0 6.5 C0 9 1.3 10 3.25 10 C5.3 10 6.5 8.7 6.5 6.8 C6.5 4.9 5.2 3.8 3.25 3.8 C1.4 3.8 0.2 5 0.05 6.5"/></g>
<g transform="translate(928.4 597.8) rotate(0) translate(0 0) scale(1.7)" fill="none" stroke="#111" stroke-width="0.56" stroke-linecap="round" stroke-linejoin="round"><path transform="translate(0 0)" d="M7 1.8 C6.4 0.6 5.5 0 3.8 0 C1 0 0 1.5 0 3.5 L0 6.5 C0 8.5 1 10 3.8 10 C5.5 10 6.4 9.4 7 8.2"/><path transform="translate(9.3 0)" d="M0 0 L0 7 C0 9 1.2 10 3.5 10 C5.8 10 7 9 7 7 L7 0"/><path transform="translate(18.6 0)" d="M0 0 L7.5 0 M3.75 0 L3.75 10"/><path transform="translate(38.2 0)" d="M0 0 L7 0 L7 10 L0 10 Z"/><path transform="translate(47.5 0)" d="M0 0 L0 7 C0 9 1.2 10 3.5 10 C5.8 10 7 9 7 7 L7 0"/><path transform="translate(56.8 0)" d="M0 0 L7.5 0 M3.75 0 L3.75 10"/></g>
<rect x="61.5" y="587.5" width="427" height="12" rx="0" stroke="#000" stroke-width="1" fill="none"/>
<path d="M115.5 600 L115.5 709 Q115.5 710.5 117 710.5 L434.5 710.5 L434.5 600" stroke="#777" stroke-width="1" fill="none"/>
<path d="M117.5 600 L117.5 709.5 L432.5 709.5 L432.5 600" stroke="#111" stroke-width="1" fill="none"/>
<path d="M117.5 690.5 L120.5 690.5 L120.5 600" stroke="#222" stroke-width="1" fill="none"/>
<path d="M432.5 690.5 L429.5 690.5 L429.5 600" stroke="#222" stroke-width="1" fill="none"/>
<path d="M142.5 601 L142.5 626.5 Q142.5 628.8 145 628.8 L404 628.8 Q406.5 628.8 406.5 626.5 L406.5 601" stroke="#666" stroke-width="1" fill="none"/>
<line x1="143" y1="600.5" x2="407" y2="600.5" stroke="#888" stroke-width="1"/>
<line x1="143" y1="602.5" x2="407" y2="602.5" stroke="#111" stroke-width="1"/>
<circle cx="163" cy="614.9" r="3.5" stroke="#777" stroke-width="1" fill="none"/>
<circle cx="183.3" cy="614.9" r="3.2" stroke="#111" stroke-width="1.6" fill="none"/>
<circle cx="365.9" cy="614.9" r="3.2" stroke="#111" stroke-width="1.6" fill="none"/>
<circle cx="386.4" cy="614.9" r="3.4" stroke="#777" stroke-width="1" fill="none"/>
<path d="M142.5 623.8 L132.5 623.8 Q130.2 623.8 130.2 626 L130.2 657 Q130.2 661 135 662 Q141 663 143 668 Q145 675.6 149 675.6 L417 675.6 Q420.2 675.6 420.2 673 L420.2 640 Q420.2 636.5 417 636.5 Q411 636 408.5 632 Q407 629 406.5 628.8" stroke="#666" stroke-width="1" fill="none"/>
<circle cx="134.3" cy="670.6" r="4.7" stroke="#444" stroke-width="1" fill="none"/>
<circle cx="134.3" cy="670.6" r="3.3" stroke="#444" stroke-width="1" fill="none"/>
<line x1="134.5" y1="667" x2="134.5" y2="674" stroke="#444" stroke-width="1"/>
<rect x="161.5" y="639.5" width="19.5" height="24.3" rx="0" stroke="#000" stroke-width="1.6" fill="none"/>
<circle cx="170.5" cy="649.3" r="6.3" stroke="#222" stroke-width="1" fill="none"/>
<circle cx="170.5" cy="649.3" r="2.3" stroke="#444" stroke-width="1" fill="none"/>
<circle cx="170.5" cy="649.3" r="0.8" stroke="#444" stroke-width="1" fill="none"/>
<rect x="185.8" y="639.7" width="20.7" height="3" rx="0" stroke="#777" stroke-width="1" fill="none"/>
<rect x="183.8" y="642.7" width="24.5" height="14.2" rx="0" stroke="#111" stroke-width="1" fill="none"/>
<rect x="185.8" y="656.9" width="20.7" height="6.6" rx="0" stroke="#777" stroke-width="1" fill="none"/>
<line x1="186" y1="662.5" x2="207" y2="662.5" stroke="#555" stroke-width="2"/>
<circle cx="195.1" cy="648.9" r="6.9" stroke="#111" stroke-width="1" fill="none"/>
<circle cx="195.1" cy="648.9" r="5.3" stroke="#333" stroke-width="1" fill="none"/>
<path d="M223 643.3 L228.4 639.2 L258 639.2 L263.2 643.3 L269.2 643.3 A7 7 0 0 1 269.2 657 L263.2 657 L258 661.2 L228.4 661.2 L223 657 L217.5 657 A7 7 0 0 1 217.5 643.3 Z" stroke="#222" stroke-width="1" fill="none"/>
<path d="M227.5 641.6 L259 641.6 Q262 641.6 261.6 645 L259.5 656 Q258.8 659.3 255.5 659.3 L231 659.3 Q227.8 659.3 227 656 L225 645 Q224.8 641.6 227.5 641.6 Z" stroke="#111" stroke-width="1" fill="none"/>
<circle cx="217.5" cy="650.2" r="5.7" stroke="#222" stroke-width="1" fill="none"/>
<circle cx="217.5" cy="650.2" r="3.2" stroke="#000" stroke-width="1.6" fill="none"/>
<circle cx="269.2" cy="650.2" r="5.7" stroke="#222" stroke-width="1" fill="none"/>
<circle cx="269.2" cy="650.2" r="3.2" stroke="#000" stroke-width="1.6" fill="none"/>
<circle cx="300.6" cy="634" r="5.3" stroke="#222" stroke-width="1" fill="none"/>
<circle cx="300.6" cy="634" r="3" stroke="#111" stroke-width="1.3" fill="none"/>
<circle cx="415" cy="628" r="5.3" stroke="#222" stroke-width="1" fill="none"/>
<circle cx="415" cy="628" r="3" stroke="#111" stroke-width="1.3" fill="none"/>
<circle cx="410.7" cy="666.6" r="5.3" stroke="#222" stroke-width="1" fill="none"/>
<circle cx="410.7" cy="666.6" r="3" stroke="#111" stroke-width="1.3" fill="none"/>
<path d="M313.5 633.1 L398.9 633.1 L404.6 637.7 L404.6 661 L398.9 668.3 L313.5 668.3 L306.4 661 L306.4 637.7 Z" stroke="#222" stroke-width="1" fill="none"/>
<path d="M325.5 649 L325.5 639.6 L381.6 639.6 L381.6 649" stroke="#000" stroke-width="2" fill="none"/>
<line x1="327" y1="648.5" x2="381" y2="648.5" stroke="#333" stroke-width="1"/>
<line x1="306" y1="649.5" x2="405" y2="649.5" stroke="#111" stroke-width="1"/>
<line x1="306" y1="651.5" x2="405" y2="651.5" stroke="#555" stroke-width="1"/>
<line x1="307" y1="659.5" x2="404" y2="659.5" stroke="#222" stroke-width="1"/>
<line x1="314.5" y1="652" x2="314.5" y2="660" stroke="#555" stroke-width="1"/>
<line x1="398.5" y1="652" x2="398.5" y2="660" stroke="#555" stroke-width="1"/>
<line x1="404.5" y1="649" x2="404.5" y2="661" stroke="#000" stroke-width="1.6"/>
<path d="M390.5 660 L390.5 666 L397.5 666 L397.5 660 M394 666 L394 668" stroke="#444" stroke-width="1" fill="none"/>
</svg></body></html>
